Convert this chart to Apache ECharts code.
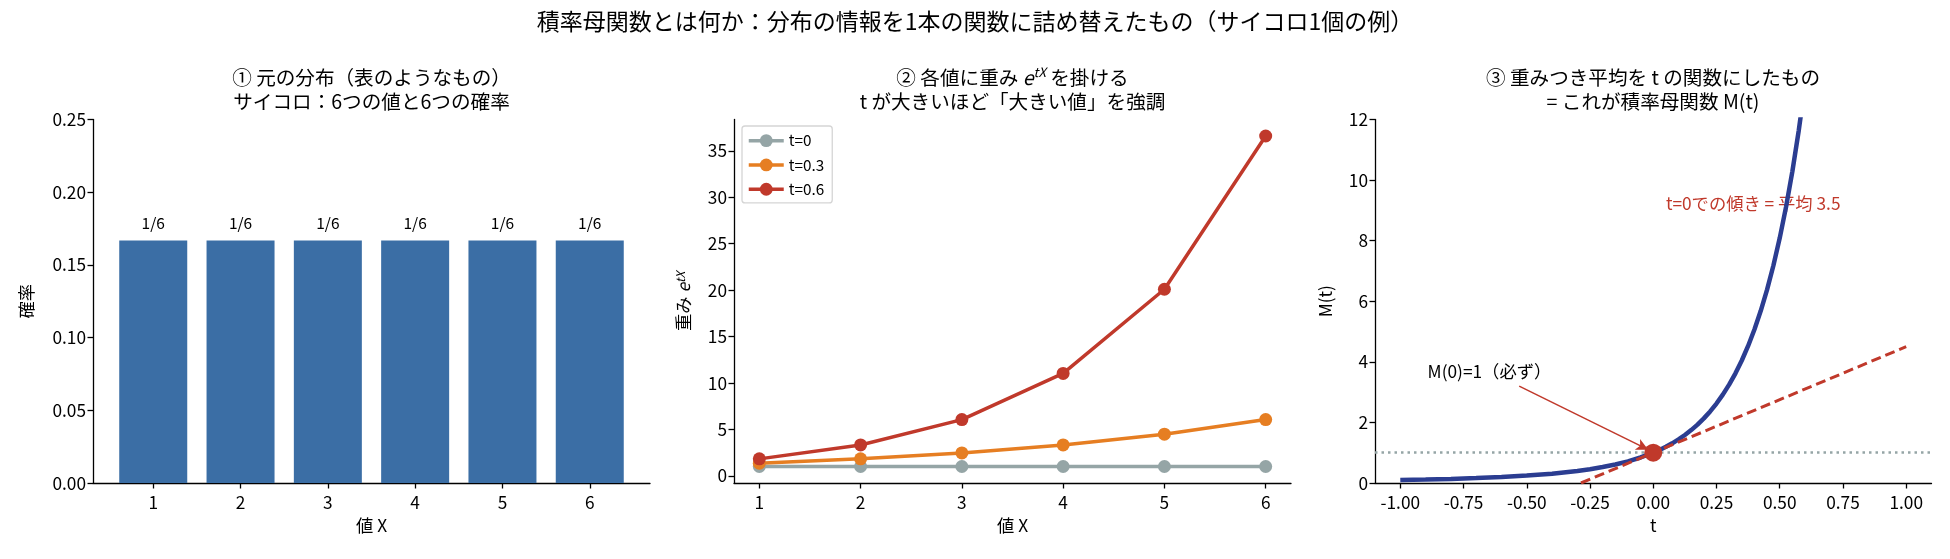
<!DOCTYPE html>
<html>
<head>
<meta charset="utf-8">
<script src="https://cdn.jsdelivr.net/npm/echarts@6/dist/echarts.min.js"></script>
<style>
  html, body { margin: 0; padding: 0; background: #fff; }
  #main { width: 1950px; height: 559px; }
</style>
</head>
<body>
<div id="main"></div>
<script>
// ① サイコロの分布
var diceValues = [1, 2, 3, 4, 5, 6];
var diceProbs = [0.1667, 0.1667, 0.1667, 0.1667, 0.1667, 0.1667];
var diceProbLabels = ['1/6', '1/6', '1/6', '1/6', '1/6', '1/6'];
var probTicks = [0, 0.05, 0.10, 0.15, 0.20, 0.25];

// ② 重み e^{tX}
var weightT0 = [1, 1, 1, 1, 1, 1];
var weightT03 = [1.35, 1.82, 2.46, 3.32, 4.48, 6.05];
var weightT06 = [1.82, 3.32, 6.05, 11.02, 20.09, 36.60];
var weightTicks = [0, 5, 10, 15, 20, 25, 30, 35];

// ③ M(t)
var tValues = [-1, -0.9, -0.8, -0.7, -0.6, -0.5, -0.4, -0.3, -0.25, -0.2, -0.15, -0.1, -0.05,
  0, 0.025, 0.05, 0.075, 0.1, 0.125, 0.15, 0.175, 0.2, 0.225, 0.25, 0.275, 0.3, 0.325,
  0.35, 0.375, 0.4, 0.425, 0.45, 0.475, 0.5, 0.525, 0.55, 0.575, 0.6];
var mValues = [0.0967, 0.1137, 0.1349, 0.1620, 0.1972, 0.2441, 0.3081, 0.3976, 0.4559, 0.5260, 0.6112, 0.7150, 0.8425,
  1, 1.0924, 1.1956, 1.3109, 1.4399, 1.5844, 1.7465, 1.9285, 2.1332, 2.3637, 2.6233, 2.9163, 3.2472, 3.6212,
  4.0444, 4.5237, 5.0671, 5.6837, 6.3837, 7.1794, 8.0843, 9.1143, 10.2875, 11.6246, 13.1498];
var tangentT = [-0.2857, 1];
var tangentM = [0, 4.5];
var tTicks = [-1, -0.75, -0.5, -0.25, 0, 0.25, 0.5, 0.75, 1];

var FONT = '"Noto Sans CJK JP", "Noto Sans", sans-serif';
var RED = '#c0392b';

function pairs(xs, ys) {
    var out = [];
    for (var i = 0; i < xs.length; i++) {
        out.push([xs[i], ys[i]]);
    }
    return out;
}

var axisLineStyle = { show: true, onZero: false, lineStyle: { color: '#000', width: 1.3 } };
var axisTickStyle = { show: true, length: 5.5, lineStyle: { color: '#000', width: 1.3 } };
var labelStyle = { color: '#000', fontSize: 17.3, fontFamily: FONT };
var nameStyle = { color: '#000', fontSize: 17.3, fontFamily: FONT };
var supRich = {
    e: { fontSize: 19.5, fontStyle: 'italic', fontFamily: FONT, lineHeight: 23.4 },
    sup: { fontSize: 13, fontStyle: 'italic', fontFamily: FONT, verticalAlign: 'top', lineHeight: 13 }
};
var supRichSmall = {
    e: { fontSize: 17.3, fontStyle: 'italic', fontFamily: FONT, color: '#000' },
    sup: { fontSize: 12, fontStyle: 'italic', fontFamily: FONT, color: '#000', verticalAlign: 'top', lineHeight: 12 }
};

function panelTitle(text, x, rich) {
    return {
        text: text,
        left: x,
        top: 66,
        textAlign: 'center',
        padding: 0,
        textStyle: {
            fontSize: 19.6,
            fontWeight: 'normal',
            color: '#000',
            fontFamily: FONT,
            lineHeight: 23.4,
            rich: rich || {}
        }
    };
}

var chart = echarts.init(document.getElementById('main'));

var option = {
    backgroundColor: '#fff',
    animation: false,
    title: [
        {
            text: '積率母関数とは何か：分布の情報を1本の関数に詰め替えたもの（サイコロ1個の例）',
            left: 975,
            top: 10,
            textAlign: 'center',
            padding: 0,
            textStyle: { fontSize: 23, fontWeight: 'normal', color: '#000', fontFamily: FONT }
        },
        panelTitle('① 元の分布（表のようなもの）\nサイコロ：6つの値と6つの確率', 371.5),
        panelTitle('② 各値に重み {e|e}{sup|tX} を掛ける\nt が大きいほど「大きい値」を強調', 1012.5, supRich),
        panelTitle('③ 重みつき平均を t の関数にしたもの\n= これが積率母関数 M(t)', 1653)
    ],
    legend: {
        data: ['t=0', 't=0.3', 't=0.6'],
        orient: 'vertical',
        left: 742,
        top: 126,
        itemWidth: 35,
        itemHeight: 16,
        itemGap: 9,
        padding: [7, 8, 6, 5],
        borderColor: '#d5d5d5',
        borderWidth: 1.3,
        borderRadius: 3,
        lineStyle: { width: 3.5 },
        textStyle: { color: '#000', fontSize: 15.3, fontFamily: FONT }
    },
    grid: [
        { left: 93, top: 119.5, width: 557, height: 363.5 },
        { left: 734, top: 119.5, width: 557, height: 363.5 },
        { left: 1375, top: 119.5, width: 556.5, height: 363.5 }
    ],
    xAxis: [
        {
            gridIndex: 0, type: 'value', min: 0.31, max: 6.69,
            name: '値 X', nameLocation: 'middle', nameGap: 34, nameTextStyle: nameStyle,
            axisLine: axisLineStyle,
            axisTick: Object.assign({ customValues: diceValues }, axisTickStyle),
            axisLabel: Object.assign({ customValues: diceValues, margin: 10.5 }, labelStyle),
            splitLine: { show: false }
        },
        {
            gridIndex: 1, type: 'value', min: 0.75, max: 6.25,
            name: '値 X', nameLocation: 'middle', nameGap: 34, nameTextStyle: nameStyle,
            axisLine: axisLineStyle,
            axisTick: Object.assign({ customValues: diceValues }, axisTickStyle),
            axisLabel: Object.assign({ customValues: diceValues, margin: 10.5 }, labelStyle),
            splitLine: { show: false }
        },
        {
            gridIndex: 2, type: 'value', min: -1.1, max: 1.1,
            name: 't', nameLocation: 'middle', nameGap: 34, nameTextStyle: nameStyle,
            axisLine: axisLineStyle,
            axisTick: Object.assign({ customValues: tTicks }, axisTickStyle),
            axisLabel: Object.assign({
                customValues: tTicks, margin: 10.5,
                formatter: function (v) { return v.toFixed(2); }
            }, labelStyle),
            splitLine: { show: false }
        }
    ],
    yAxis: [
        {
            gridIndex: 0, type: 'value', min: 0, max: 0.25,
            name: '確率', nameLocation: 'middle', nameGap: 58, nameTextStyle: nameStyle,
            axisLine: axisLineStyle,
            axisTick: Object.assign({ customValues: probTicks }, axisTickStyle),
            axisLabel: Object.assign({
                customValues: probTicks, margin: 7,
                formatter: function (v) { return v.toFixed(2); }
            }, labelStyle),
            splitLine: { show: false }
        },
        {
            gridIndex: 1, type: 'value', min: -0.78, max: 38.38,
            name: '重み {e|e}{sup|tX}', nameLocation: 'middle', nameGap: 42,
            nameTextStyle: Object.assign({ rich: supRichSmall }, nameStyle),
            axisLine: axisLineStyle,
            axisTick: Object.assign({ customValues: weightTicks }, axisTickStyle),
            axisLabel: Object.assign({ customValues: weightTicks, margin: 7 }, labelStyle),
            splitLine: { show: false }
        },
        {
            gridIndex: 2, type: 'value', min: 0, max: 12, interval: 2,
            name: 'M(t)', nameLocation: 'middle', nameGap: 41, nameTextStyle: nameStyle,
            axisLine: axisLineStyle,
            axisTick: axisTickStyle,
            axisLabel: Object.assign({ margin: 7 }, labelStyle),
            splitLine: { show: false }
        }
    ],
    series: [
        {
            type: 'bar',
            name: '確率',
            xAxisIndex: 0, yAxisIndex: 0,
            barWidth: 68,
            itemStyle: { color: '#3b6ea5' },
            label: {
                show: true, position: 'top', distance: 10,
                color: '#000', fontSize: 15.5, fontFamily: FONT,
                formatter: function (p) { return diceProbLabels[p.dataIndex]; }
            },
            data: pairs(diceValues, diceProbs)
        },
        {
            type: 'line', name: 't=0', xAxisIndex: 1, yAxisIndex: 1,
            symbol: 'circle', symbolSize: 13,
            itemStyle: { color: '#95a5a6' },
            lineStyle: { color: '#95a5a6', width: 3.5 },
            data: pairs(diceValues, weightT0)
        },
        {
            type: 'line', name: 't=0.3', xAxisIndex: 1, yAxisIndex: 1,
            symbol: 'circle', symbolSize: 13,
            itemStyle: { color: '#e67e22' },
            lineStyle: { color: '#e67e22', width: 3.5 },
            data: pairs(diceValues, weightT03)
        },
        {
            type: 'line', name: 't=0.6', xAxisIndex: 1, yAxisIndex: 1,
            symbol: 'circle', symbolSize: 13,
            itemStyle: { color: RED },
            lineStyle: { color: RED, width: 3.5 },
            data: pairs(diceValues, weightT06)
        },
        {
            type: 'line', name: 'M(t)', xAxisIndex: 2, yAxisIndex: 2,
            showSymbol: false, smooth: false, clip: true,
            lineStyle: { color: '#2b3d91', width: 4.5 },
            markLine: {
                silent: true, symbol: 'none',
                label: { show: false },
                lineStyle: { color: '#95a5a6', type: [2.5, 4], width: 2.5 },
                data: [{ yAxis: 1 }]
            },
            data: pairs(tValues, mValues)
        },
        {
            type: 'line', name: '接線', xAxisIndex: 2, yAxisIndex: 2,
            showSymbol: false, clip: true,
            lineStyle: { color: RED, width: 3, type: [10, 5] },
            data: pairs(tangentT, tangentM)
        },
        {
            type: 'scatter', name: 'M(0)', xAxisIndex: 2, yAxisIndex: 2,
            symbolSize: 18, itemStyle: { color: RED, opacity: 1 }, z: 5,
            data: [[0, 1]]
        },
        {
            type: 'scatter', name: '注釈', xAxisIndex: 2, yAxisIndex: 2,
            symbolSize: 0, silent: true,
            itemStyle: { opacity: 1 },
            label: {
                show: true, position: 'inside', align: 'left', verticalAlign: 'middle',
                fontSize: 17.3, fontFamily: FONT, opacity: 1,
                formatter: function (p) { return p.value[2]; },
                color: '#000'
            },
            markLine: {
                silent: true,
                symbol: ['none', 'arrow'], symbolSize: [9, 12],
                label: { show: false },
                lineStyle: { color: RED, width: 1.5, type: 'solid', opacity: 1 },
                data: [[{ coord: [-0.53, 3.2] }, { coord: [-0.02, 1.1] }]]
            },
            data: [
                { value: [-0.892, 3.67, 'M(0)=1（必ず）'] },
                { value: [0.05, 9.234, 't=0での傾き = 平均 3.5'], label: { color: RED } }
            ]
        }
    ]
};

chart.setOption(option);
</script>
</body>
</html>
